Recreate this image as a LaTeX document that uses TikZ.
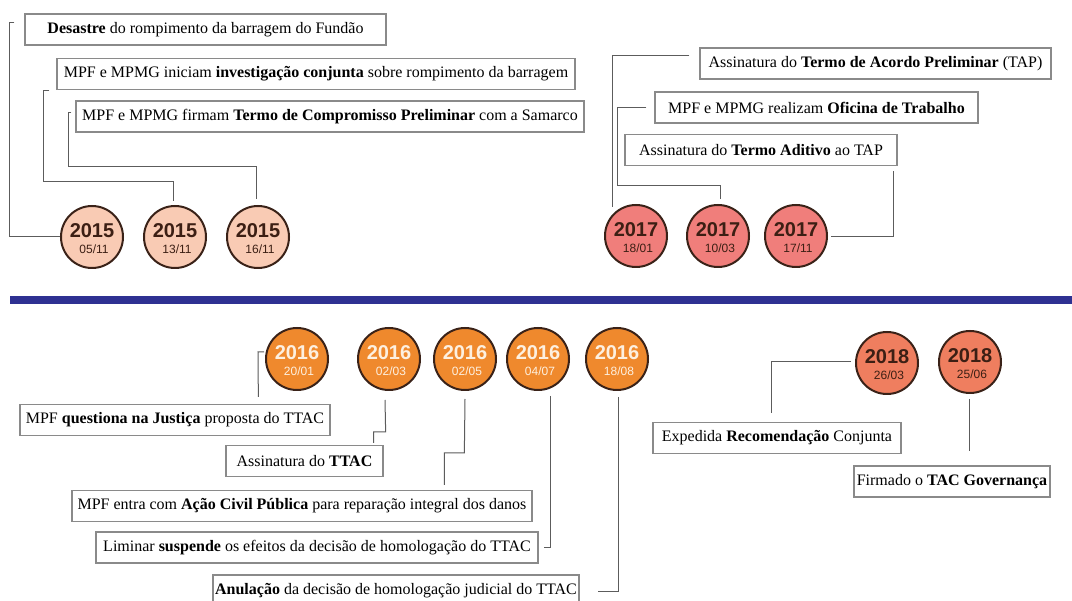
\documentclass[tikz,border=0pt]{standalone}
\usepackage{fontspec}
\setmainfont{Liberation Serif}
\setsansfont{Liberation Sans}
\usetikzlibrary{calc}
\definecolor{peach}{HTML}{F9CBB4}
\definecolor{salmon}{HTML}{F07E7B}
\definecolor{orng}{HTML}{EF892D}
\definecolor{coral}{HTML}{EF7E5F}
\definecolor{rim}{HTML}{3A2218}
\definecolor{darktxt}{HTML}{3C1F14}
\definecolor{lighttxt}{HTML}{FDF0E0}
\definecolor{boxgray}{HTML}{8A8A8A}
\definecolor{linegray}{HTML}{5C5C5C}
\definecolor{barblue}{HTML}{2E3192}
\tikzset{
  evbox/.style={draw=boxgray, line width=1.3pt, fill=white, inner sep=0pt,
    minimum height=31pt, align=center, font=\fontsize{16}{18}\selectfont},
  conn/.style={draw=linegray, line width=1pt},
  dot/.style={circle, draw=rim, line width=2pt, minimum size=62pt, inner sep=0pt},
  yr/.style={font=\sffamily\bfseries\fontsize{20}{20}\selectfont, inner sep=0pt},
  dt/.style={font=\sffamily\fontsize{12}{12}\selectfont, inner sep=0pt},
}
% name, x, y, fill, text colour, year, date
\newcommand\evdot[7]{%
  \node[dot, fill=#4] (#1) at (#2,#3) {};
  \node[yr, text=#5] (#1y) at ($(#1)+(0,-6)$) {#6};
  \node[dt, text=#5] (#1d) at ($(#1)+(2,12)$) {#7};
}
\begin{document}
\begin{tikzpicture}[x=1pt, y=-1pt]
\useasboundingbox (0,0) rectangle (1072,601);
\clip (0,0) rectangle (1072,601);
\fill[white] (0,0) rectangle (1072,601);

% separator bar
\fill[barblue] (10,296) rectangle (1072,304);

% ---------- 2015 ----------
\node[evbox, minimum width=361pt] (b1) at (205.5,29.5) {\textbf{Desastre} do rompimento da barragem do Fundão};
\node[evbox, minimum width=518pt] (b2) at (316,74) {MPF e MPMG iniciam \textbf{investigação conjunta} sobre rompimento da barragem};
\node[evbox, minimum width=508pt] (b3) at (330,116.5) {MPF e MPMG firmam \textbf{Termo de Compromisso Preliminar} com a Samarco};
\evdot{c1}{92}{237}{peach}{darktxt}{2015}{05/11}
\evdot{c2}{175}{237}{peach}{darktxt}{2015}{13/11}
\evdot{c3}{258}{237}{peach}{darktxt}{2015}{16/11}
\draw[conn] ($(b1.west)+(-10,-6.5)$) -- ++(-5,0) |- (c1.west);
\draw[conn] ($(b2.south west)+(-7,0)$) -- ++(-6,0) |- ($(c2.north)+(-2,-23)$) -- ($(c2.north)+(-2,-4)$);
\draw[conn] ($(b3.west)+(-4,-3.5)$) -- ++(-3,0) |- ($(c3.north)+(-2,-38)$) -- ($(c3.north)+(-2,-6)$);

% ---------- 2017 ----------
\node[evbox, minimum width=351pt] (b4) at (875.5,63.5) {Assinatura do \textbf{Termo de Acordo Preliminar} (TAP)};
\node[evbox, minimum width=323pt] (b5) at (816.5,107.5) {MPF e MPMG realizam \textbf{Oficina de Trabalho}};
\node[evbox, minimum width=272pt] (b6) at (761,150) {Assinatura do \textbf{Termo Aditivo} ao TAP};
\evdot{c5}{636}{236}{salmon}{darktxt}{2017}{18/01}
\evdot{c6}{718}{236}{salmon}{darktxt}{2017}{10/03}
\evdot{c7}{796}{236}{salmon}{darktxt}{2017}{17/11}
\coordinate (k5) at ($(c5.center)+(-24,-29)$);
\draw[conn] ($(b4.west)+(-10,-7.5)$) -| (k5);
\draw[conn] ($(b5.west)+(-8,0.5)$) -- ++(-29,0) |- ($(c6.north)+(2,-18)$) -- ($(c6.north)+(2,-5)$);
\draw[conn] ($(b6.south east)+(-4,5)$) |- ($(c7.east)+(3,1)$);

% ---------- 2016 ----------
\evdot{c8}{297}{359}{orng}{lighttxt}{2016}{20/01}
\evdot{c9}{389}{359}{orng}{lighttxt}{2016}{02/03}
\evdot{c10}{465}{359}{orng}{lighttxt}{2016}{02/05}
\evdot{c11}{538}{359}{orng}{lighttxt}{2016}{04/07}
\evdot{c12}{617}{359}{orng}{lighttxt}{2016}{18/08}
\node[evbox, minimum width=310pt] (b7) at (175,420) {MPF \textbf{questiona na Justiça} proposta do TTAC};
\node[evbox, minimum width=157pt] (b8) at (304.5,461) {Assinatura do \textbf{TTAC}};
\node[evbox, minimum width=460pt] (b9) at (302,506) {MPF entra com \textbf{Ação Civil Pública} para reparação integral dos danos};
\node[evbox, minimum width=442pt] (b10) at (317,547.5) {Liminar \textbf{suspende} os efeitos da decisão de homologação do TTAC};
\node[evbox, minimum width=366pt] (b11) at (396,590.5) {\textbf{Anulação} da decisão de homologação judicial do TTAC};
\draw[conn] ($(c8.west)+(-1,-7)$) -- ++(-6,0) -- ($(b7.north west)+(239,-7)$);
\draw[conn] ($(c9.south)+(-4,9)$) -- ($(b8.north east)+(2,-13)$) -- ++(-12,0) -- ($(b8.north east)+(-10,-2)$);
\draw[conn] ($(c10.south)+(0,8)$) -- ($(b9.north west)+(393,-37)$) -- ++(-20,0) -- ($(b9.north west)+(373,-5)$);
\draw[conn] ($(c11.south)+(12,5)$) |- ($(b10.east)+(5,0)$);
\draw[conn] ($(c12.south)+(1,6)$) |- ($(b11.east)+(18,1.5)$);

% ---------- 2018 ----------
\evdot{c13}{887}{363}{coral}{darktxt}{2018}{26/03}
\evdot{c14}{970}{362}{coral}{darktxt}{2018}{25/06}
\node[evbox, minimum width=248pt] (b12) at (777,438) {Expedida \textbf{Recomendação} Conjunta};
\node[evbox, minimum width=196pt] (b13) at (952,481.5) {Firmado o \textbf{TAC Governança}};
\draw[conn] ($(c13.west)+(-4,-1)$) -| ($(b12.north west)+(119,-9)$);
\draw[conn] ($(c14.south)+(-1,5)$) -- ($(b13.north)+(17,-14)$);
\end{tikzpicture}
\end{document}
